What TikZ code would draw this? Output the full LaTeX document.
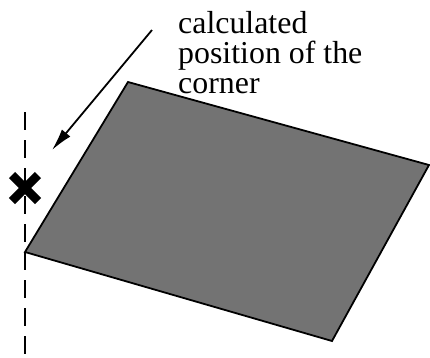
\documentclass[tikz,border=0pt]{standalone}
\usepackage{fontspec}
\setmainfont{Liberation Serif}
\newfontfamily\capfont{Liberation Serif}
\usetikzlibrary{arrows.meta}
\tikzset{
  plate/.style={draw=black, line width=1.8pt, fill=black!55, line join=miter},
  guide/.style={draw=black, line width=1.6pt, dash pattern=on 18bp off 10bp},
  pointer/.style={-{Latex[length=22bp, width=11bp]}, line width=1.8pt, draw=black},
  cross/.style={draw=black, line width=8.5bp},
  caption/.style={align=left, inner sep=0pt, anchor=north west, font=\capfont\fontsize{32}{30}\selectfont}
}

\begin{document}
\begin{tikzpicture}[x=1bp, y=-1bp]
  \useasboundingbox (0,0) rectangle (430,358);
  % plate corners
  \coordinate (tl) at (128,82);
  \coordinate (tr) at (429,165);
  \coordinate (br) at (332,341);
  \coordinate (bl) at (25,252);
  \draw[plate] (tl) -- (tr) -- (br) -- (bl) -- cycle;
  % vertical guide and computed corner
  \coordinate (gtop) at (25,112);
  \coordinate (gbot) at (25,358);
  \draw[guide] (gtop) -- (gbot);
  \coordinate (mark) at (25,188);
  \draw[cross] ([shift={(-13,-13)}]mark) -- ([shift={(13,13)}]mark);
  \draw[cross] ([shift={(-13,13)}]mark) -- ([shift={(13,-13)}]mark);
  % label and arrow
  \node[caption] (label) at (178,11) {calculated\\position of the\\corner};
  \coordinate (tail) at (152,30);
  \coordinate (tip) at (52,150);
  \draw[pointer] (tail) -- (tip);
\end{tikzpicture}
\end{document}
